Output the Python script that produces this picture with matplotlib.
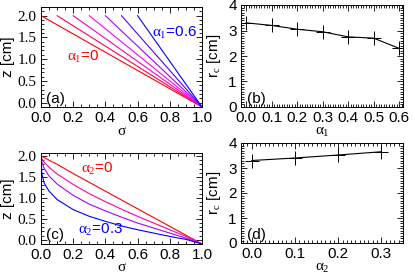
import numpy as np
import matplotlib.pyplot as plt
from matplotlib.ticker import MultipleLocator

# Panel (a): straight profiles, start sigma for each alpha_1
alpha1 = [0.0, 0.1, 0.2, 0.3, 0.4, 0.5, 0.6]
sig_start = [0.0, 0.1, 0.2, 0.3, 0.4, 0.5, 0.6]
z_top = 2.0
z_end = -0.1

# Panel (b): r_c vs alpha_1
rc_a1 = [3.3, 3.2, 3.05, 2.95, 2.75, 2.7, 2.3]

# Panel (c): curved profiles for alpha_2 = 0, 0.1, 0.2, 0.3
sig_c = [0.0, 0.005, 0.02, 0.05, 0.1, 0.2, 0.3, 0.4, 0.5, 0.6, 0.7, 0.8, 0.9, 1.0]
z_c = {
    0.0: [2.0, 1.99, 1.96, 1.90, 1.80, 1.58, 1.37, 1.16, 0.95, 0.74, 0.53, 0.32, 0.11, -0.1],
    0.1: [2.0, 1.94, 1.85, 1.73, 1.57, 1.32, 1.10, 0.91, 0.73, 0.56, 0.40, 0.24, 0.08, -0.1],
    0.2: [2.0, 1.86, 1.70, 1.52, 1.33, 1.06, 0.85, 0.69, 0.54, 0.40, 0.28, 0.16, 0.04, -0.1],
    0.3: [2.0, 1.58, 1.35, 1.16, 0.96, 0.72, 0.56, 0.44, 0.33, 0.24, 0.16, 0.08, 0.01, -0.1],
}

# Panel (d): r_c vs alpha_2
alpha2 = [0.0, 0.1, 0.2, 0.3]
rc_a2 = [3.3, 3.4, 3.52, 3.65]


def rb(t):
    # red -> magenta -> blue
    return (min(1, 2 * (1 - t)), 0, min(1, 2 * t))


plt.rcParams['font.family'] = ['Liberation Sans', 'DejaVu Sans']
plt.rcParams['font.size'] = 11
plt.rcParams['mathtext.fontset'] = 'custom'
plt.rcParams['mathtext.rm'] = 'Liberation Serif'
plt.rcParams['mathtext.it'] = 'Liberation Serif'

fig = plt.figure(figsize=(4.15, 2.77), dpi=100)
W, H = 415, 277


def add_ax(x0, y0, x1, y1):
    return fig.add_axes([x0 / W, 1 - y1 / H, (x1 - x0) / W, (y1 - y0) / H])


ax_a = add_ax(41, 7, 202, 107)
ax_b = add_ax(241, 5, 403, 107)
ax_c = add_ax(41, 153, 202, 244)
ax_d = add_ax(241, 143, 403, 243)


def style(ax):
    ax.tick_params(which='both', direction='in', top=True, right=True,
                   labelsize=11, pad=3, width=0.6)
    ax.tick_params(which='major', length=4)
    ax.tick_params(which='minor', length=2)
    for s in ax.spines.values():
        s.set_linewidth(0.7)


# (a)
for a, s0 in zip(alpha1, sig_start):
    ax_a.plot([s0, 1.0], [z_top, z_end], color=rb(a / 0.6), lw=0.8)
ax_a.set_xlim(0, 1)
ax_a.set_ylim(-0.1, 2.2)
ax_a.xaxis.set_major_locator(MultipleLocator(0.2))
ax_a.xaxis.set_minor_locator(MultipleLocator(0.05))
ax_a.yaxis.set_major_locator(MultipleLocator(0.5))
ax_a.yaxis.set_minor_locator(MultipleLocator(0.1))
ax_a.set_xlabel('σ', family='Liberation Serif', labelpad=0)
ax_a.set_ylabel('z [cm]', labelpad=2)
ax_a.text(0.26, 0.50, r'$\alpha_1$=0', color='red', transform=ax_a.transAxes,
          ha='center', va='center')
ax_a.text(0.83, 0.74, r'$\alpha_1$=0.6', color='blue', transform=ax_a.transAxes,
          ha='center', va='center')
ax_a.text(0.03, 0.04, '(a)', transform=ax_a.transAxes)
style(ax_a)

# (b)
ax_b.plot(alpha1, rc_a1, color='black', lw=0.8, marker='+', ms=9.5, mew=0.7)
ax_b.set_xlim(-0.02, 0.615)
ax_b.set_ylim(0, 4)
ax_b.xaxis.set_major_locator(MultipleLocator(0.1))
ax_b.xaxis.set_minor_locator(MultipleLocator(0.01))
ax_b.yaxis.set_major_locator(MultipleLocator(1))
ax_b.yaxis.set_minor_locator(MultipleLocator(0.1))
ax_b.set_xlabel(r'$\alpha_1$', labelpad=0)
ax_b.set_ylabel(r'r$_c$ [cm]', labelpad=4)
ax_b.text(0.04, 0.04, '(b)', transform=ax_b.transAxes)
style(ax_b)

# (c)
for a in z_c:
    ax_c.plot(sig_c, z_c[a], color=rb(a / 0.3), lw=0.8)
ax_c.set_xlim(0, 1)
ax_c.set_ylim(-0.1, 2.07)
ax_c.xaxis.set_major_locator(MultipleLocator(0.2))
ax_c.xaxis.set_minor_locator(MultipleLocator(0.05))
ax_c.yaxis.set_major_locator(MultipleLocator(0.5))
ax_c.yaxis.set_minor_locator(MultipleLocator(0.1))
ax_c.set_xlabel('σ', family='Liberation Serif', labelpad=-1)
ax_c.set_ylabel('z [cm]', labelpad=2)
ax_c.text(0.35, 0.83, r'$\alpha_2$=0', color='red', transform=ax_c.transAxes,
          ha='center', va='center')
ax_c.text(0.37, 0.15, r'$\alpha_2$=0.3', color='blue', transform=ax_c.transAxes,
          ha='center', va='center')
ax_c.text(0.03, 0.05, '(c)', transform=ax_c.transAxes)
style(ax_c)

# (d)
ax_d.plot(alpha2, rc_a2, color='black', lw=0.8, marker='+', ms=9.5, mew=0.7)
ax_d.set_xlim(-0.025, 0.35)
ax_d.set_ylim(0, 4)
ax_d.xaxis.set_major_locator(MultipleLocator(0.1))
ax_d.xaxis.set_minor_locator(MultipleLocator(0.01))
ax_d.yaxis.set_major_locator(MultipleLocator(1))
ax_d.yaxis.set_minor_locator(MultipleLocator(0.1))
ax_d.set_xlabel(r'$\alpha_2$', labelpad=0)
ax_d.set_ylabel(r'r$_c$ [cm]', labelpad=4)
ax_d.text(0.04, 0.04, '(d)', transform=ax_d.transAxes)
style(ax_d)

# serif y tick labels on the profile panels
fig.canvas.draw()
for ax in (ax_a, ax_c):
    for lab in ax.get_yticklabels():
        lab.set_family('Liberation Serif')

fig.savefig('out.png', dpi=100)
